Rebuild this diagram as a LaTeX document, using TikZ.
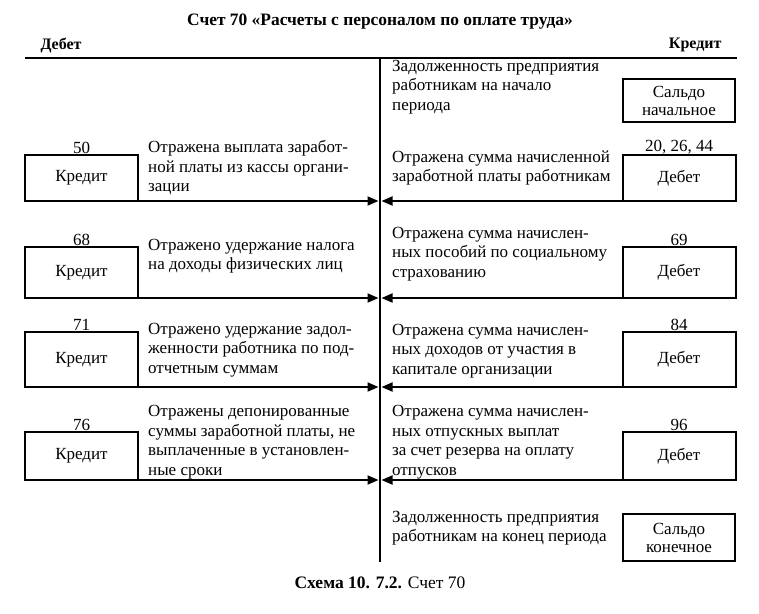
\documentclass[tikz,border=0pt]{standalone}
\usepackage{fontspec}
\setmainfont{Liberation Serif}
\usetikzlibrary{arrows.meta,positioning}
\tikzset{
  body/.style={font=\fontsize{17}{19.5}\selectfont},
  acc/.style={draw, body, line width=2pt, minimum width=113pt, inner sep=0pt,
    outer sep=0pt, label distance=3pt},
  saldo/.style={acc, line width=2.4pt, minimum width=112pt, align=center,
    font=\fontsize{17}{18}\selectfont},
  num/.style={body, inner sep=1pt},
  txt/.style={body, anchor=west, align=left, inner sep=0pt},
  flow/.style={line width=1.8pt, -{Triangle[length=11pt,width=9pt]}},
}
\begin{document}
\begin{tikzpicture}[x=1pt,y=-1pt]
        \useasboundingbox (0,0) rectangle (759,613);
        \def\xl{81.5}
        \def\xr{679}
        \def\xa{380}
        %Header
        \node[font=\bfseries\fontsize{17.4}{19}\selectfont] (title) at (\xa,22)
          {Счет 70 «Расчеты с персоналом по оплате труда»};
        \node[anchor=west, font=\bfseries\fontsize{16}{18}\selectfont] (deb) at (37,45) {Дебет};
        \node[anchor=east, font=\bfseries\fontsize{16}{18}\selectfont] (kred) at (725,45) {Кредит};
        \coordinate (hl) at (25,58);
        \coordinate (hr) at (737,58);
        \coordinate (vt) at (\xa,58);
        \coordinate (vb) at (\xa,562);
        %Axis
        \draw[line width=2.6pt] (hl) -- (hr);
        \draw[line width=2.2pt] (vt) -- (vb);
        %Opening balance
        \node[txt] (open) at (392,87)
          {Задолженность предприятия\\работникам на начало\\периода};
        \node[saldo, minimum height=43pt] (sn) at (\xr,100.5) {Сальдо\\начальное};
        %Row 1
        \node[acc, minimum height=46pt, label={[num]above:50}] (k50) at (\xl,178) {Кредит};
        \node[acc, minimum height=46pt, label={[num]above:{20, 26, 44}}] (d20) at (\xr,178) {Дебет};
        \node[txt] (t1l) at (148,168)
          {Отражена выплата заработ-\\ной платы из кассы органи-\\зации};
        \node[txt] (t1r) at (392,168)
          {Отражена сумма начисленной\\заработной платы работникам};
        \coordinate (a1l) at (\xa-1.5,201);
        \coordinate (a1r) at (\xa+1.5,201);
        \draw[flow] (k50.south east) -- (a1l);
        \draw[flow] (d20.south west) -- (a1r);
        %Row 2
        \node[acc, minimum height=51pt, label={[num]above:68}] (k68) at (\xl,272.5) {Кредит};
        \node[acc, minimum height=51pt, label={[num]above:69}] (d69) at (\xr,272.5) {Дебет};
        \node[txt] (t2l) at (148,256)
          {Отражено удержание налога\\на доходы физических лиц};
        \node[txt] (t2r) at (392,254)
          {Отражена сумма начислен-\\ных пособий по социальному\\страхованию};
        \coordinate (a2l) at (\xa-1.5,298);
        \coordinate (a2r) at (\xa+1.5,298);
        \draw[flow] (k68.south east) -- (a2l);
        \draw[flow] (d69.south west) -- (a2r);
        %Row 3
        \node[acc, minimum height=55pt, label={[num]above:71}] (k71) at (\xl,359.5) {Кредит};
        \node[acc, minimum height=55pt, label={[num]above:84}] (d84) at (\xr,359.5) {Дебет};
        \node[txt] (t3l) at (148,350)
          {Отражено удержание задол-\\женности работника по под-\\отчетным суммам};
        \node[txt] (t3r) at (392,351)
          {Отражена сумма начислен-\\ных доходов от участия в\\капитале организации};
        \coordinate (a3l) at (\xa-1.5,387);
        \coordinate (a3r) at (\xa+1.5,387);
        \draw[flow] (k71.south east) -- (a3l);
        \draw[flow] (d84.south west) -- (a3r);
        %Row 4
        \node[acc, minimum height=48pt, label={[num]above:76}] (k76) at (\xl,456) {Кредит};
        \node[acc, minimum height=48pt, label={[num]above:96}] (d96) at (\xr,456) {Дебет};
        \node[txt] (t4l) at (148,442)
          {Отражены депонированные\\суммы заработной платы, не\\выплаченные в установлен-\\ные сроки};
        \node[txt] (t4r) at (392,442)
          {Отражена сумма начислен-\\ных отпускных выплат\\за счет резерва на оплату\\отпусков};
        \coordinate (a4l) at (\xa-1.5,480);
        \coordinate (a4r) at (\xa+1.5,480);
        \draw[flow] (k76.south east) -- (a4l);
        \draw[flow] (d96.south west) -- (a4r);
        %Closing balance
        \node[txt] (close) at (392,528)
          {Задолженность предприятия\\работникам на конец периода};
        \node[saldo, minimum height=47pt] (sk) at (\xr,537.5) {Сальдо\\конечное};
        %Caption
        \node[font=\fontsize{17.5}{19}\selectfont] (cap) at (\xa,583)
          {\textbf{Схема 10. 7.2.} Счет 70};
      \end{tikzpicture}
\end{document}
